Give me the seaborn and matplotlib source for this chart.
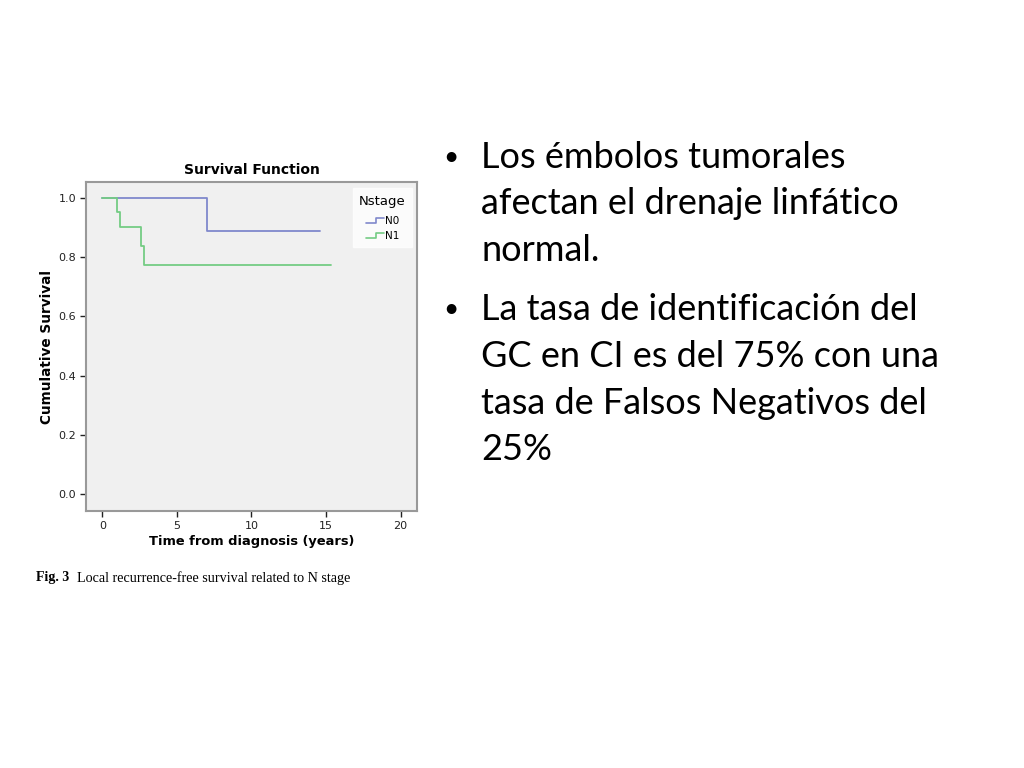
import matplotlib
matplotlib.use("Agg")
import matplotlib.pyplot as plt
import seaborn as sns
import pandas as pd
from matplotlib.lines import Line2D
from matplotlib.legend_handler import HandlerBase

# Kaplan-Meier steps
n0_time = [0, 7.0, 14.6]
n0_surv = [1.0, 0.889, 0.889]
n1_time = [0, 0.95, 1.2, 2.6, 2.8, 15.3]
n1_surv = [1.0, 0.952, 0.901, 0.838, 0.773, 0.773]

groups = ["N0", "N1"]
colors = {"N0": "#8088cc", "N1": "#74cc84"}

x_ticks = [0, 5, 10, 15, 20]
y_ticks = [0.0, 0.2, 0.4, 0.6, 0.8, 1.0]

bullets = [
    ["Los émbolos tumorales", "afectan el drenaje linfático", "normal."],
    ["La tasa de identificación del", "GC en CI es del 75% con una",
     "tasa de Falsos Negativos del", "25%"],
]

df = pd.concat([
    pd.DataFrame({"time": n0_time, "surv": n0_surv, "Nstage": "N0"}),
    pd.DataFrame({"time": n1_time, "surv": n1_surv, "Nstage": "N1"}),
])

sns.set_style("white")
plt.rcParams["font.family"] = ["DejaVu Sans"]
plt.rcParams["text.color"] = "black"
plt.rcParams["axes.labelcolor"] = "black"
plt.rcParams["xtick.color"] = "#222222"
plt.rcParams["ytick.color"] = "#222222"

fig = plt.figure(figsize=(10.24, 7.68), dpi=100)
ax = fig.add_axes([86 / 1024, 1 - 511 / 768, 331 / 1024, 329 / 768])
ax.set_facecolor("#f0f0f0")

sns.lineplot(data=df, x="time", y="surv", hue="Nstage", palette=colors,
             drawstyle="steps-post", estimator=None, linewidth=1.3,
             legend=False, ax=ax)

ax.set_xlim(-1.1, 21.1)
ax.set_ylim(-0.057, 1.054)
ax.set_xticks(x_ticks)
ax.set_yticks(y_ticks)
ax.set_yticklabels([f"{v:.1f}" for v in y_ticks])
ax.tick_params(axis="both", labelsize=8, length=4, width=1,
               direction="out", left=True, bottom=True, pad=3)
for sp in ax.spines.values():
    sp.set_color("#999999")
    sp.set_linewidth(1.5)

ax.set_title("Survival Function", fontsize=10, fontweight="bold", pad=6)
ax.set_xlabel("Time from diagnosis (years)", fontsize=9.4, fontweight="bold",
              labelpad=3)
ax.set_ylabel("Cumulative Survival", fontsize=9.8, fontweight="bold",
              labelpad=3)


class StepHandler(HandlerBase):
    def create_artists(self, legend, orig_handle, xdescent, ydescent,
                       width, height, fontsize, trans):
        xs = [0, width * 0.55, width * 0.55, width]
        ys = [height * 0.1, height * 0.1, height * 0.8, height * 0.8]
        ln = Line2D(xs, ys, color=orig_handle.get_color(), linewidth=1.2,
                    transform=trans)
        return [ln]


handles = [Line2D([], [], color=colors[g]) for g in groups]
leg = ax.legend(handles, groups, title="Nstage", loc="upper right",
                fontsize=7.5, title_fontsize=9.5, frameon=True, fancybox=False,
                handler_map={Line2D: StepHandler()}, handlelength=1.8,
                handletextpad=0.1, borderpad=0.6, labelspacing=0.5,
                borderaxespad=0.3, bbox_to_anchor=(0.995, 0.99))
leg.get_frame().set_facecolor("white")
leg.get_frame().set_edgecolor("white")
leg._legend_box.sep = 6

fig.text(36 / 1024, 1 - 578 / 768, "Fig. 3", family="Liberation Serif",
         fontweight="bold", fontsize=10, va="center")
fig.text(77 / 1024, 1 - 578 / 768, "Local recurrence-free survival related to N stage",
         family="Liberation Serif", fontsize=10.2, va="center")

# bullet text on the right
line_h = 46.5
y = 168
for block in bullets:
    fig.text(443 / 1024, 1 - (y - 3) / 768, "•", family="Lato", fontsize=19,
             va="baseline")
    for line in block:
        fig.text(481 / 1024, 1 - y / 768, line, family="Lato", fontsize=26,
                 va="baseline")
        y += line_h
    y += 13

fig.savefig("out.png", dpi=100, facecolor="white")
